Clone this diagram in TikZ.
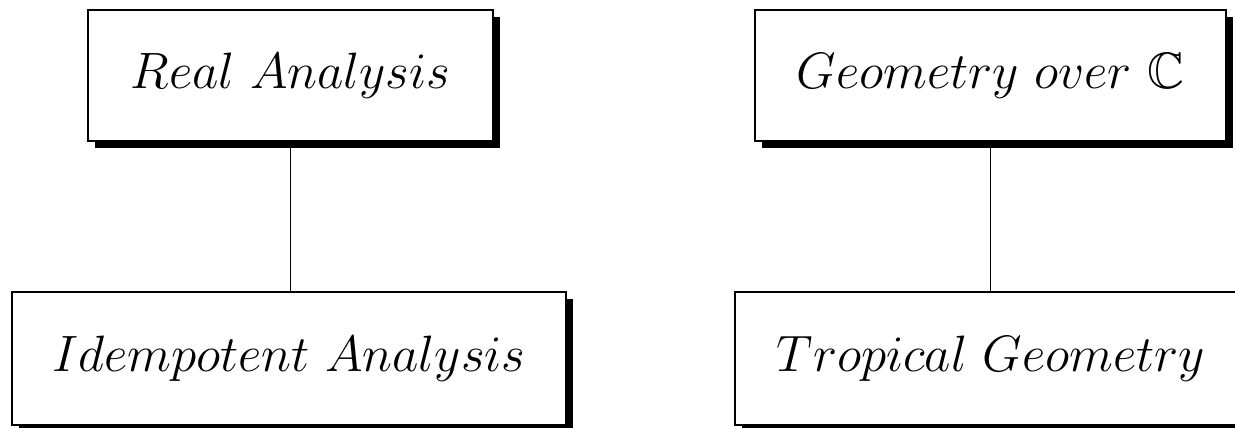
\documentclass[tikz,border=0pt]{standalone}
\usepackage{amssymb}
\usetikzlibrary{shadows}

\newcommand{\boxtext}[1]{\scalebox{1.17}{$#1$}}

\tikzstyle{box} = [draw, fill=white, line width=1.1pt, inner sep=0pt,
    minimum height=2.62cm, font=\fontsize{24.88}{30}\selectfont,
    drop shadow={shadow xshift=0.14cm, shadow yshift=-0.14cm, fill=black, opacity=1}]
\tikzstyle{link} = [line width=0.9pt]

\begin{document}
\begin{tikzpicture}
\useasboundingbox (0,0) rectangle (24.7,8.54);
% top row
\node[box, minimum width=8.1cm] (real) at (5.81,7.03) {\boxtext{Real\ Analysis}};
\node[box, minimum width=9.42cm] (geom) at (19.81,7.03) {\boxtext{Geometry\ over\ \mathbb{C}}};
% bottom row
\node[box, minimum width=11.08cm, minimum height=2.66cm] (idem) at (5.78,1.37) {\boxtext{Idempotent\ Analysis}};
\node[box, minimum width=10.24cm, minimum height=2.66cm] (trop) at (19.82,1.37) {\boxtext{Tropical\ Geometry}};
% connectors
\draw[link] (real.south) -- (real.south |- idem.north);
\draw[link] (geom.south) -- (geom.south |- trop.north);
\end{tikzpicture}
\end{document}
